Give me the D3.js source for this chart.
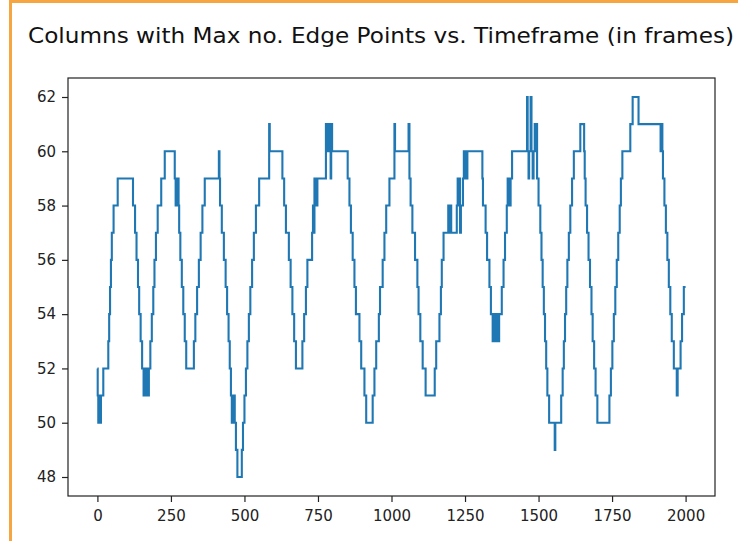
<!DOCTYPE html>
<html><head><meta charset="utf-8">
<script src="https://cdn.jsdelivr.net/npm/d3@7/dist/d3.min.js"></script>
<style>body{margin:0;background:#fff;overflow:hidden}</style>
</head><body><svg id="c" width="738" height="541"></svg>
<script>
const title = "Columns with Max no. Edge Points vs. Timeframe (in frames)";
// change points of the step series (frame, value)
const frames = [0,1,3,5,6,8,9,12,20,37,40,43,46,49,55,69,121,128,133,138,142,147,152,157,160,163,166,169,175,180,185,190,194,199,205,217,229,263,266,268,271,273,276,278,282,287,292,297,302,328,333,339,345,351,357,365,413,415,417,423,430,436,441,446,450,454,457,460,462,465,467,471,476,491,495,500,505,510,515,520,526,532,539,550,584,586,629,635,641,651,657,663,669,675,697,703,709,714,724,730,733,736,738,741,743,745,748,777,780,782,785,787,790,793,795,798,851,857,862,868,874,879,891,897,908,914,936,942,948,957,961,970,976,982,993,1010,1012,1058,1061,1065,1071,1080,1088,1092,1098,1106,1116,1147,1152,1163,1168,1171,1177,1193,1196,1199,1203,1222,1225,1228,1231,1233,1236,1243,1246,1249,1252,1255,1258,1309,1311,1320,1325,1333,1338,1344,1348,1351,1354,1357,1360,1363,1366,1370,1375,1381,1386,1392,1395,1398,1401,1403,1405,1410,1461,1463,1466,1468,1473,1476,1480,1483,1487,1490,1492,1495,1500,1506,1510,1514,1518,1522,1526,1530,1536,1555,1557,1577,1582,1586,1590,1594,1598,1603,1608,1614,1620,1642,1655,1657,1660,1665,1670,1675,1680,1684,1689,1694,1700,1741,1746,1751,1756,1761,1766,1771,1776,1780,1785,1812,1820,1840,1915,1918,1921,1923,1928,1933,1938,1943,1948,1953,1960,1970,1973,1983,1988,1994,2000];
const values = [52,51,50,51,50,51,50,51,52,53,54,55,56,57,58,59,58,57,56,55,54,53,52,51,52,51,52,51,52,53,54,55,56,57,58,59,60,59,58,59,58,59,58,57,56,55,54,53,52,53,54,55,56,57,58,59,60,59,58,57,56,55,54,53,52,51,50,51,50,51,50,49,48,49,50,51,52,53,54,55,56,57,58,59,61,60,59,58,57,56,55,54,53,52,53,54,55,56,56,57,58,57,59,58,59,58,59,61,60,61,60,61,60,59,61,60,59,58,57,56,55,54,53,52,51,50,51,52,53,54,55,56,57,58,59,61,60,61,59,58,57,56,55,54,53,52,51,52,53,54,55,56,57,58,57,58,57,58,59,58,59,57,58,59,60,59,60,59,60,59,58,57,56,55,54,53,54,53,54,53,54,53,54,54,55,56,57,58,59,58,59,58,59,60,62,60,59,60,62,60,59,60,61,60,61,59,58,57,56,55,54,53,52,51,50,49,50,51,52,53,54,55,56,57,58,59,60,61,60,59,58,57,56,55,54,53,52,51,50,51,52,53,54,55,56,57,58,59,60,61,62,61,60,61,60,59,58,57,56,55,54,53,52,51,52,53,54,55,55];
const xTicks = [0,250,500,750,1000,1250,1500,1750,2000];
const yTicks = [48,50,52,54,56,58,60,62];

const data = frames.map((f,i)=>({f, v: values[i]}));
const svg = d3.select("#c");
const L=68,R=715,T=78,B=496;
const x = d3.scaleLinear().domain([-100,2100]).range([L,R]);
const y = d3.scaleLinear().domain([47.3,62.7]).range([B,T]);

// orange frame
svg.append("line").attr("x1",10.5).attr("x2",10.5).attr("y1",0).attr("y2",541).attr("stroke","#f7a540").attr("stroke-width",3);
svg.append("line").attr("x1",9).attr("x2",738).attr("y1",1.5).attr("y2",1.5).attr("stroke","#f7a540").attr("stroke-width",3);

svg.append("text").attr("x",(28+734)/2).attr("y",43).attr("text-anchor","middle")
  .attr("font-family","DejaVu Sans").attr("font-size",21).attr("fill","#111")
  .attr("textLength",706).attr("lengthAdjust","spacingAndGlyphs").text(title);

const line = d3.line().x(d=>x(d.f)).y(d=>y(d.v)).curve(d3.curveStepAfter);
svg.append("path").datum(data).attr("d",line).attr("fill","none")
  .attr("stroke","#1f77b4").attr("stroke-width",2.1).attr("stroke-linejoin","miter");

const xa = svg.append("g").attr("transform",`translate(0,${B})`)
  .call(d3.axisBottom(x).tickValues(xTicks).tickSize(6).tickPadding(8).tickFormat(d3.format("d")));
const ya = svg.append("g").attr("transform",`translate(${L},0)`)
  .call(d3.axisLeft(y).tickValues(yTicks).tickSize(6).tickPadding(6).tickFormat(d3.format("d")));
[xa,ya].forEach(g=>{
  g.select(".domain").remove();
  g.selectAll("line").attr("stroke","#222").attr("stroke-width",1.2);
  g.selectAll("text").attr("font-family","DejaVu Sans").attr("font-size",15).attr("fill","#222");
});
svg.append("rect").attr("x",L).attr("y",T).attr("width",R-L).attr("height",B-T)
  .attr("fill","none").attr("stroke","#222").attr("stroke-width",1.2);
</script></body></html>
